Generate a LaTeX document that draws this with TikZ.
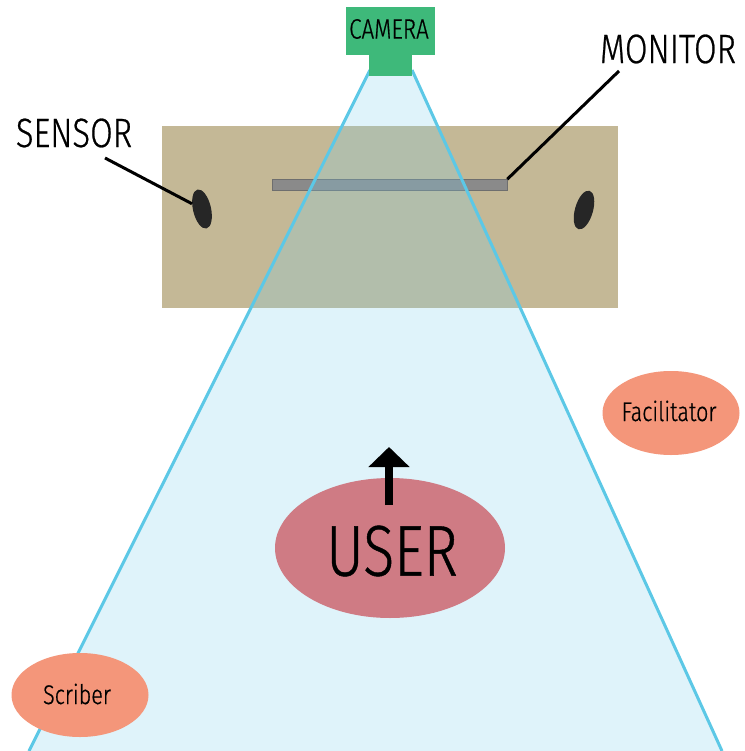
\documentclass[tikz,border=0pt]{standalone}
\usepackage{fontspec}
\setmainfont{Fira Sans Light}[FakeStretch=0.8,FakeBold=0.6]
\usetikzlibrary{arrows.meta,shapes.geometric}
\definecolor{deskcol}{RGB}{196,184,150}
\definecolor{moncol}{RGB}{138,138,138}
\definecolor{sensorcol}{RGB}{38,38,38}
\definecolor{conefill}{RGB}{128,208,236}
\definecolor{coneline}{RGB}{92,200,230}
\definecolor{camcol}{RGB}{62,185,122}
\definecolor{usercol}{RGB}{207,123,132}
\definecolor{rolecol}{RGB}{244,150,122}
\tikzset{
  desk/.style={rectangle, fill=deskcol, inner sep=0pt, minimum width=456pt, minimum height=182pt},
  screen/.style={rectangle, fill=moncol, draw=moncol!80!black, line width=0.6pt, inner sep=0pt, minimum width=235pt, minimum height=11pt},
  sensordot/.style={ellipse, fill=sensorcol, inner sep=0pt, minimum width=18pt, minimum height=40pt},
  cambox/.style={rectangle, fill=camcol, inner sep=0pt},
  viewedge/.style={draw=coneline, line width=3pt},
  leader/.style={draw=black, line width=3pt},
  biglabel/.style={inner sep=0pt, font=\fontsize{41pt}{41pt}\selectfont},
  userdisc/.style={ellipse, fill=usercol, inner sep=0pt, minimum width=230pt, minimum height=140pt},
  roledisc/.style={ellipse, fill=rolecol, inner sep=0pt, minimum width=137pt, minimum height=84pt},
}
\begin{document}
\begin{tikzpicture}[x=1pt,y=-1pt]
\useasboundingbox (0,0) rectangle (744,751);
\fill[white] (0,0) rectangle (744,751);

% desk with monitor and the two sensors
\node[desk] (desk) at (390,217) {};
\node[screen] (mon) at (389.5,185) {};
\node[sensordot, rotate=13] (sL) at (202,209) {};
\node[sensordot, rotate=-16] (sR) at (584,210) {};

% camera field of view
\coordinate (vTL) at (370,70);
\coordinate (vTR) at (412,70);
\coordinate (vBL) at (29,751);
\coordinate (vBR) at (722,751);
\fill[conefill, opacity=0.25] (vTL) -- (vTR) -- (vBR) -- (vBL) -- cycle;
\draw[viewedge] (vTL) -- (vBL);
\draw[viewedge] (vTR) -- (vBR);

% camera
\node[cambox, minimum width=43pt, minimum height=22pt] (stem) at (390.5,65) {};
\node[cambox, minimum width=89pt, minimum height=48pt] (cam) at (390,31) {};
\node[inner sep=0pt, font=\fontsize{28pt}{28pt}\selectfont] (camtxt) at (389,29) {CAMERA};

% labels with leader lines
\node[biglabel] (senstxt) at (74,133) {SENSOR};
\coordinate (sensTip) at (105,158);
\draw[leader] (sensTip) -- (sL);
\node[biglabel] (montxt) at (668,49) {MONITOR};
\coordinate (monTip) at (619,71);
\draw[leader] (mon.north east) -- (monTip);

% user and facing direction
\node[userdisc] (user) at (390,548) {};
\node[inner sep=0pt, font=\fontsize{72pt}{72pt}\selectfont] (usertxt) at (392,551) {USER};
\coordinate (faceBase) at (389,505);
\coordinate (faceTip) at (389,447);
\draw[line width=8pt, -{Triangle[width=40pt,length=20pt]}] (faceBase) -- (faceTip);

% facilitator and scriber
\node[roledisc] (fac) at (671,413) {};
\node[inner sep=0pt, font=\fontsize{27pt}{27pt}\selectfont] (factxt) at (669,411) {Facilitator};
\node[roledisc] (scr) at (80,695) {};
\node[inner sep=0pt, font=\fontsize{27pt}{27pt}\selectfont] (scrtxt) at (77,694) {Scriber};
\end{tikzpicture}
\end{document}
